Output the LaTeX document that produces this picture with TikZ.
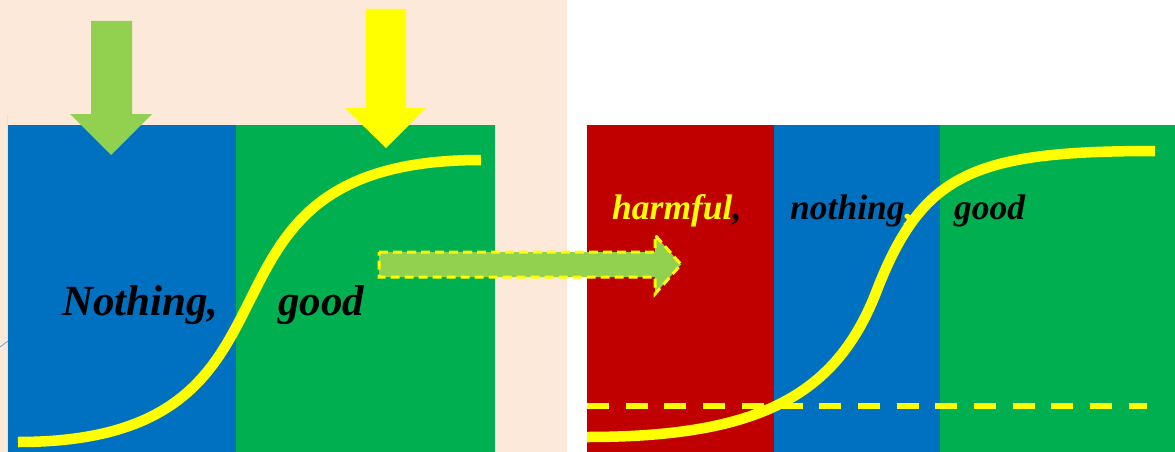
\documentclass[tikz,border=0pt]{standalone}
\usepackage{fontspec}
\setmainfont{Liberation Serif}
\definecolor{peach}{HTML}{FDE9D9}
\definecolor{panelblue}{HTML}{0070C0}
\definecolor{panelgreen}{HTML}{00B050}
\definecolor{panelred}{HTML}{C00000}
\definecolor{lightgreen}{HTML}{92D050}
\definecolor{curveyellow}{HTML}{FFFF00}
\begin{document}
\begin{tikzpicture}[
        x=1pt, y=-1pt,
        line join=miter,
        scurve/.style={draw=curveyellow, line width=10.5pt},
        bigword/.style={font=\fontsize{43}{43}\selectfont\bfseries\itshape, inner sep=0pt, anchor=base west},
        smallword/.style={font=\fontsize{35.5}{36}\selectfont\bfseries\itshape, inner sep=0pt, anchor=base west}
    ]
        \useasboundingbox (0,0) rectangle (1175,452);
        % Left panel (before)
        \fill[peach] (0,0) rectangle (567,452);
        \fill[panelblue] (8,125) rectangle (236,452);
        \fill[panelgreen] (236,125) rectangle (495,452);
        \draw[curveyellow, line width=0.8pt] (7.5,114) -- (7.5,452);
        \draw[panelblue!70!white, line width=0.6pt] (0,347) -- (8,341);
        % Right panel (after)
        \fill[panelred] (587,125) rectangle (774,452);
        \fill[panelblue] (774,125) rectangle (940,452);
        \fill[panelgreen] (940,125) rectangle (1175,452);
        % Threshold line
        \coordinate (T0) at (587,406);
        \coordinate (T1) at (1147,406);
        \draw[curveyellow, line width=6pt, dash pattern=on 22pt off 16.7pt] (T0) -- (T1);
        % S-curves
        \coordinate (L0) at (18,442);
        \coordinate (Lm) at (250,300);
        \coordinate (L1) at (481,160);
        \draw[scurve] (L0) .. controls (180,442) and (215,370) .. (Lm)
            .. controls (285,230) and (320,160) .. (L1);
        \coordinate (R0) at (587,437);
        \coordinate (Rm) at (877,290);
        \coordinate (R1) at (1155,151);
        \draw[scurve] (R0) .. controls (760,437) and (837,395) .. (Rm)
            .. controls (923,172) and (975,151) .. (R1);
        % Block arrows on top
        \fill[lightgreen] (91,21) -- (132,21) -- (132,114) -- (152,114)
            -- (111,155) -- (70,114) -- (91,114) -- cycle;
        \fill[curveyellow] (366,9) -- (406,9) -- (406,108) -- (426,108)
            -- (386,148) -- (345,108) -- (366,108) -- cycle;
        % Labels
        \node[bigword] (nothingL) at (62,315) {Nothing,};
        \node[bigword] (goodL) at (278,315) {good};
        \node[smallword] (harmful) at (612,219) {\textcolor{curveyellow}{harmful},};
        \node[smallword] (nothingR) at (790,219) {nothing\textcolor{curveyellow}{,}};
        \node[smallword] (goodR) at (954,219) {good};
        % Shift arrow
        \fill[lightgreen, draw=curveyellow, line width=3pt, dash pattern=on 9pt off 5pt]
            (379,252) -- (655,252) -- (655,235) -- (681,264.5) -- (655,294)
            -- (655,277) -- (379,277) -- cycle;
    \end{tikzpicture}
\end{document}
